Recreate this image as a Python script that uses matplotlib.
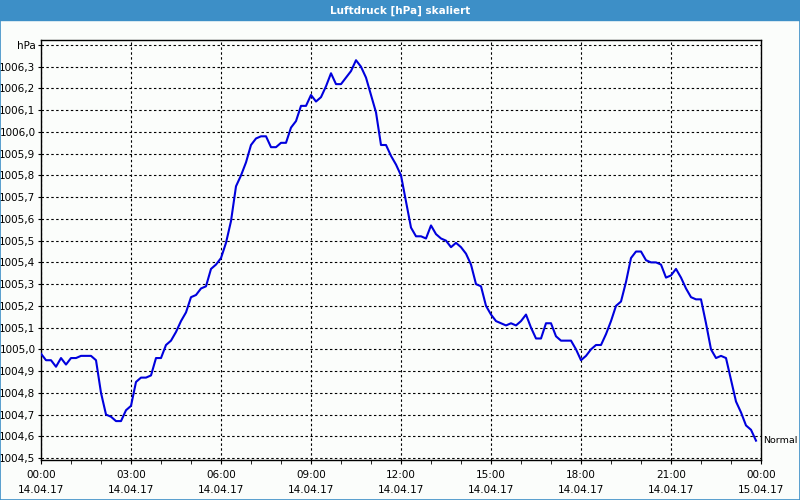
import numpy as np
import pandas as pd
import matplotlib
matplotlib.use('Agg')
import matplotlib.pyplot as plt
import matplotlib.dates as mdates
from matplotlib.patches import Rectangle

# Luftdruck, 10-Minuten-Werte 14.04.17 00:00 .. 23:50
pressure = [1004.98, 1004.95, 1004.95, 1004.92, 1004.96, 1004.93, 1004.96, 1004.96, 1004.97, 1004.97,
            1004.97, 1004.95, 1004.80, 1004.70, 1004.69, 1004.67, 1004.67, 1004.72, 1004.74, 1004.85,
            1004.87, 1004.87, 1004.88, 1004.96, 1004.96, 1005.02, 1005.04, 1005.08, 1005.13, 1005.17,
            1005.24, 1005.25, 1005.28, 1005.29, 1005.37, 1005.39, 1005.42, 1005.49, 1005.59, 1005.75,
            1005.80, 1005.86, 1005.94, 1005.97, 1005.98, 1005.98, 1005.93, 1005.93, 1005.95, 1005.95,
            1006.02, 1006.05, 1006.12, 1006.12, 1006.17, 1006.14, 1006.16, 1006.21, 1006.27, 1006.22,
            1006.22, 1006.25, 1006.28, 1006.33, 1006.30, 1006.25, 1006.17, 1006.09, 1005.94, 1005.94,
            1005.89, 1005.85, 1005.80, 1005.68, 1005.56, 1005.52, 1005.52, 1005.51, 1005.57, 1005.53,
            1005.51, 1005.50, 1005.47, 1005.49, 1005.47, 1005.44, 1005.39, 1005.30, 1005.29, 1005.20,
            1005.16, 1005.13, 1005.12, 1005.11, 1005.12, 1005.11, 1005.13, 1005.16, 1005.10, 1005.05,
            1005.05, 1005.12, 1005.12, 1005.06, 1005.04, 1005.04, 1005.04, 1005.00, 1004.95, 1004.97,
            1005.00, 1005.02, 1005.02, 1005.07, 1005.13, 1005.20, 1005.22, 1005.31, 1005.42, 1005.45,
            1005.45, 1005.41, 1005.40, 1005.40, 1005.39, 1005.33, 1005.34, 1005.37, 1005.33, 1005.28,
            1005.24, 1005.23, 1005.23, 1005.12, 1005.00, 1004.96, 1004.97, 1004.96, 1004.86, 1004.76,
            1004.71, 1004.65, 1004.63, 1004.58]
times = pd.date_range('2017-04-14 00:00', periods=len(pressure), freq='10min')

title = 'Luftdruck [hPa] skaliert'
series_name = 'Normal'
y_ticks = [1004.5 + 0.1 * i for i in range(20)]
y_labels = [f'{v:.1f}'.replace('.', ',') for v in y_ticks[:-1]] + ['hPa']
x_start = pd.Timestamp('2017-04-14 00:00')
x_end = pd.Timestamp('2017-04-15 00:00')

blue = '#3d8fc7'
bg = '#fbfdfb'
plt.rcParams['font.family'] = ['DejaVu Sans']

fig = plt.figure(figsize=(8, 5), dpi=100, facecolor=bg)
# Titelleiste und Rahmen
fig.patches.append(Rectangle((0, 0.96), 1, 0.04, transform=fig.transFigure, color=blue, zorder=0))
fig.patches.append(Rectangle((0.0006, 0.001), 0.9988, 0.998, transform=fig.transFigure,
                             fill=False, edgecolor=blue, lw=1.2, zorder=0))
fig.text(0.5, 0.979, title, ha='center', va='center', color='white', fontsize=7.5, fontweight='bold')

ax = fig.add_axes([41 / 800, 40 / 500, 720 / 800, 420 / 500], facecolor=bg)
ax.plot(times, pressure, color='#0000dd', lw=1.5, zorder=3)

ax.set_xlim(x_start, x_end)
ax.set_ylim(1004.491, 1006.423)
ax.set_yticks(y_ticks)
ax.set_yticklabels(y_labels)
ax.xaxis.set_major_locator(mdates.HourLocator(byhour=range(0, 24, 3)))
ax.xaxis.set_minor_locator(mdates.HourLocator())
ax.xaxis.set_major_formatter(mdates.DateFormatter('%H:%M\n%d.%m.%y'))

ax.grid(True, which='major', color='black', linestyle=(0, (2.2, 2.2)), lw=0.8)
ax.tick_params(axis='both', which='both', direction='out', labelsize=7.5, colors='black')
ax.tick_params(axis='x', which='both', length=3, pad=4)
ax.tick_params(axis='y', length=2, pad=2)
for s in ax.spines.values():
    s.set_color('black')
    s.set_linewidth(1)

ax.annotate(series_name, xy=(1.0, pressure[-1]), xycoords=('axes fraction', 'data'),
            xytext=(1.5, 0), textcoords='offset points', va='center', ha='left',
            fontsize=6.8, annotation_clip=False)

fig.canvas.draw()
for lab in ax.get_xticklabels():
    lab.set_linespacing(1.6)

fig.savefig('out.png', dpi=100, facecolor=bg)
